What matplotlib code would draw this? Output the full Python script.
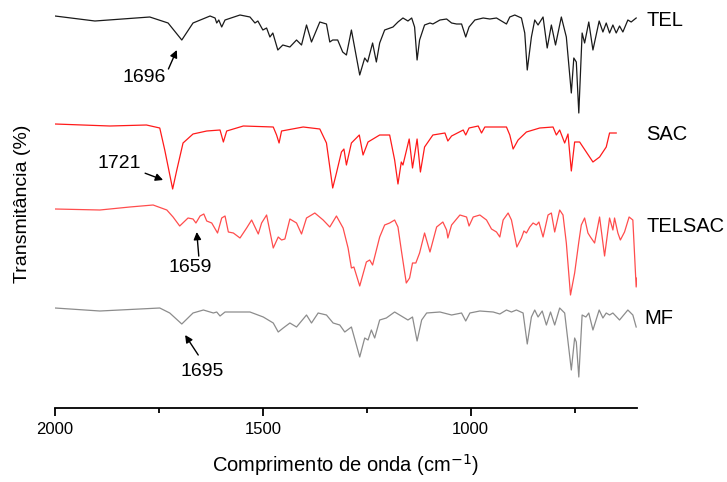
import matplotlib
matplotlib.use("Agg")
import matplotlib.pyplot as plt
from matplotlib.ticker import MultipleLocator

plt.rcParams['font.family'] = ['Liberation Sans', 'DejaVu Sans']

# wavenumber (cm-1) / transmittance (arbitrary, offset units)
tel_wn = [2000, 1904, 1772, 1728, 1695, 1668, 1627, 1615, 1611, 1606, 1599, 1591, 1555, 1531,
          1519, 1512, 1500, 1491, 1483, 1476, 1464, 1452, 1435, 1419, 1407, 1395, 1383, 1363,
          1347, 1339, 1332, 1320, 1308, 1299, 1287, 1267, 1255, 1248, 1236, 1227, 1219, 1207,
          1187, 1175, 1163, 1151, 1142, 1135, 1129, 1123, 1111, 1098, 1091, 1074, 1058, 1046,
          1034, 1022, 1012, 1004, 990, 970, 954, 938, 922, 914, 906, 894, 878, 870, 864, 854,
          846, 838, 826, 816, 806, 796, 782, 770, 758, 752, 746, 740, 732, 726, 716, 706, 691,
          682, 674, 666, 658, 650, 642, 634, 622, 614, 602]
tel_t = [399, 394, 398, 392, 375, 392, 399, 397, 392, 395, 388, 395, 400, 398,
         392, 394, 385, 387, 378, 382, 365, 370, 368, 375, 370, 390, 373, 393,
         391, 373, 375, 375, 363, 360, 385, 340, 357, 353, 372, 353, 372, 385,
         388, 393, 397, 394, 397, 388, 355, 375, 390, 392, 391, 395, 396, 392,
         391, 391, 378, 388, 395, 397, 396, 397, 393, 391, 398, 400, 397, 382, 345, 378,
         395, 390, 398, 367, 390, 370, 398, 378, 322, 357, 353, 302, 382, 372, 393, 365, 394,
         383, 392, 382, 390, 382, 389, 383, 395, 393, 397]

sac_wn = [2000, 1868, 1780, 1748, 1736, 1717, 1707, 1692, 1668, 1635, 1603, 1595, 1587, 1547,
          1475, 1467, 1461, 1455, 1403, 1363, 1347, 1332, 1323, 1311, 1305, 1299, 1287, 1268,
          1259, 1247, 1219, 1195, 1183, 1175, 1167, 1163, 1148, 1140, 1129, 1121, 1111, 1091,
          1062, 1055, 1046, 1018, 1012, 1004, 982, 974, 966, 914, 906, 898, 886, 866, 834, 802,
          794, 786, 774, 766, 758, 750, 738, 706, 690, 674, 666, 650]
sac_t = [291, 289, 290, 287, 265, 226, 245, 272, 281, 284, 285, 273, 284, 289,
         288, 280, 272, 284, 288, 286, 272, 227, 242, 263, 266, 250, 272, 280,
         260, 273, 280, 280, 255, 231, 253, 250, 276, 247, 276, 243, 268, 280,
         282, 274, 279, 285, 280, 287, 289, 282, 288, 288, 280, 266, 275, 283, 287, 288,
         280, 285, 272, 281, 244, 273, 273, 253, 258, 268, 282, 282]

telsac_wn = [2000, 1892, 1820, 1764, 1731, 1716, 1700, 1680, 1668, 1661, 1651, 1642, 1635, 1623,
             1609, 1599, 1591, 1583, 1571, 1555, 1539, 1527, 1511, 1503, 1491, 1475, 1463, 1455,
             1447, 1435, 1419, 1407, 1395, 1375, 1355, 1339, 1323, 1307, 1295, 1287, 1281, 1267,
             1251, 1243, 1236, 1219, 1207, 1195, 1183, 1175, 1167, 1155, 1147, 1140, 1132, 1123,
             1111, 1098, 1082, 1067, 1058, 1055, 1046, 1026, 1010, 1004, 994, 978, 962, 950, 938,
             930, 922, 910, 902, 889, 878, 872, 866, 858, 850, 842, 836, 826, 814, 806, 798, 786,
             778, 770, 760, 750, 740, 734, 726, 718, 712, 702, 690, 678, 666, 658, 654, 646, 640,
             630, 619, 610, 602, 600]
telsac_t = [206, 205, 208, 210, 205, 198, 189, 197, 196, 192, 199, 201, 194, 192,
            182, 197, 199, 183, 182, 177, 187, 195, 181, 192, 200, 167, 178, 175,
            176, 196, 192, 181, 197, 202, 195, 188, 199, 187, 167, 147, 148, 129,
            153, 155, 150, 178, 190, 192, 195, 188, 165, 132, 137, 152, 152, 162,
            182, 163, 188, 193, 185, 177, 190, 200, 198, 189, 198, 200, 195, 186, 183,
            178, 195, 202, 195, 168, 177, 184, 182, 188, 192, 190, 193, 178, 200, 202, 183, 205,
            200, 172, 120, 142, 173, 190, 197, 182, 178, 172, 198, 159, 197, 185, 197, 182, 175,
            183, 198, 195, 128, 137]

mf_wn = [2000, 1892, 1748, 1724, 1695, 1668, 1643, 1619, 1611, 1603, 1591, 1563, 1531, 1499,
         1487, 1475, 1463, 1451, 1435, 1419, 1395, 1383, 1367, 1347, 1331, 1315, 1303, 1287,
         1267, 1255, 1247, 1239, 1231, 1219, 1203, 1183, 1163, 1151, 1140, 1129, 1118, 1106,
         1074, 1046, 1022, 1012, 1002, 978, 946, 930, 914, 902, 890, 874, 864, 854, 846, 838,
         828, 818, 808, 798, 786, 774, 758, 750, 746, 740, 732, 723, 716, 706, 691, 682, 674,
         666, 658, 642, 622, 610, 602]
mf_t = [107, 104, 107, 102, 91, 102, 105, 102, 103, 99, 103, 103, 103, 98,
        95, 92, 83, 87, 92, 88, 100, 92, 102, 100, 92, 90, 83, 88,
        58, 77, 75, 85, 77, 95, 97, 103, 98, 95, 98, 74, 95, 102,
        103, 100, 102, 94, 102, 104, 103, 101, 105, 103, 105, 102, 71, 98, 105, 98,
        104, 90, 103, 90, 107, 102, 45, 77, 73, 38, 100, 98, 102, 85, 105, 97, 102,
        100, 102, 95, 105, 100, 88]

fig = plt.figure(figsize=(7.27, 4.82), dpi=100)
ax = fig.add_axes([55 / 727, 74 / 482, 582 / 727, 408 / 482])

ax.plot(tel_wn, tel_t, color='#1a1a1a', lw=0.9)
ax.plot(sac_wn, sac_t, color='#ff1a1a', lw=0.9)
ax.plot(telsac_wn, telsac_t, color='#ff4d4d', lw=0.9)
ax.plot(mf_wn, mf_t, color='#8c8c8c', lw=0.9)

ax.set_xlim(2000, 600)
ax.set_ylim(7, 415)

for side in ['top', 'right', 'left']:
    ax.spines[side].set_visible(False)
ax.spines['bottom'].set_linewidth(1.3)
ax.set_yticks([])
ax.xaxis.set_major_locator(MultipleLocator(500))
ax.xaxis.set_minor_locator(MultipleLocator(250))
ax.tick_params(axis='x', which='major', direction='out', length=6, width=1.3, labelsize=12, pad=4)
ax.tick_params(axis='x', which='minor', direction='out', length=3.5, width=1.3)

ax.set_xlabel('Comprimento de onda (cm$^{-1}$)', fontsize=14.5, labelpad=11)
ax.set_ylabel('Transmitância (%)', fontsize=14, labelpad=17)

# series labels
ax.text(577, 395, 'TEL', fontsize=14.5, va='center', ha='left')
ax.text(577, 280, 'SAC', fontsize=14.5, va='center', ha='left')
ax.text(576, 188, 'TELSAC', fontsize=14.5, va='center', ha='left')
ax.text(582, 97, 'MF', fontsize=14.5, va='center', ha='left')

arrow = dict(arrowstyle='-|>', color='k', lw=1, mutation_scale=11, shrinkA=0, shrinkB=0)
ax.annotate('1696', xy=(1707, 365), xytext=(1786, 338), fontsize=14, ha='center', va='center',
            arrowprops=dict(arrow, relpos=(1, 0.6)))
ax.annotate('1721', xy=(1740, 235), xytext=(1846, 252), fontsize=14, ha='center', va='center',
            arrowprops=dict(arrow, relpos=(1.1, -0.1)))
ax.annotate('1659', xy=(1659, 183), xytext=(1675, 147), fontsize=14, ha='center', va='center',
            arrowprops=dict(arrow, relpos=(0.7, 1.2)))
ax.annotate('1695', xy=(1687, 80), xytext=(1645, 43), fontsize=14, ha='center', va='center',
            arrowprops=dict(arrow, relpos=(0.4, 1.5)))

fig.savefig('out.png', dpi=100)
